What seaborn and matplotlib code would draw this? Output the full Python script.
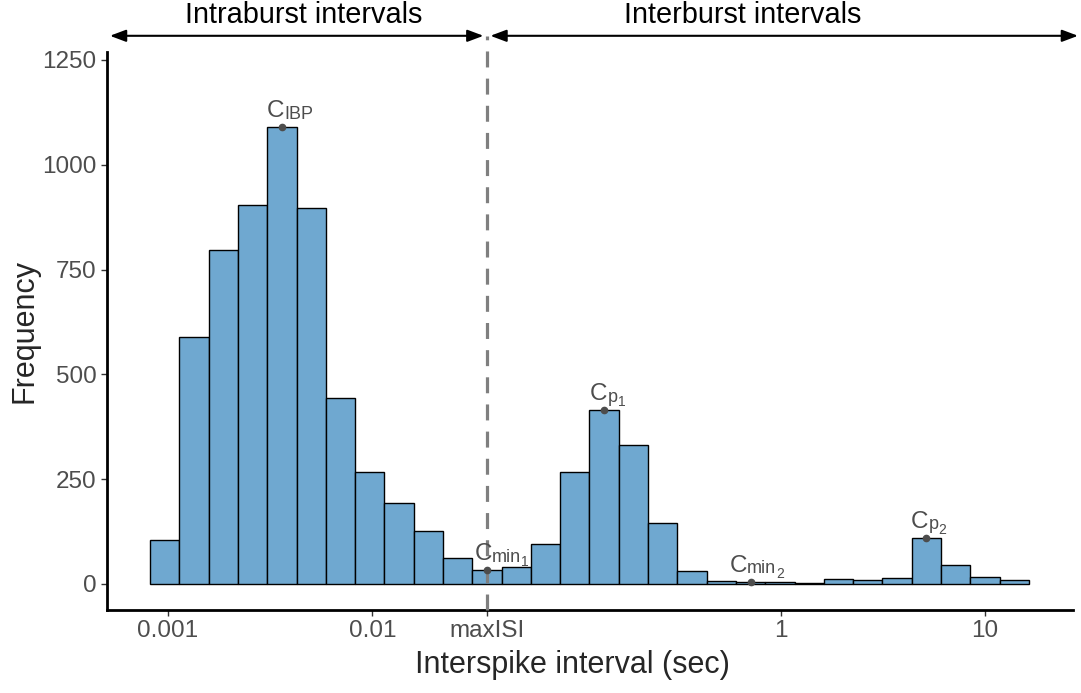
import numpy as np
import pandas as pd
import matplotlib
matplotlib.use("Agg")
import matplotlib.pyplot as plt
import seaborn as sns

# histogram bin counts (30 log-spaced bins)
counts = [105, 590, 797, 905, 1090, 897, 443, 268, 193, 125,
          62, 33, 40, 94, 266, 415, 331, 146, 31, 8,
          5, 5, 3, 11, 9, 14, 110, 46, 16, 9]
log_start = -3.088   # log10 of first bin edge
log_width = 0.1434   # bin width in decades
max_isi = 0.0364

# annotated peaks / minima: bin index, label pieces (text, level), x offset in points
peak_bins = [4, 11, 15, 20, 26]
peak_labels = [[("C", 0), ("IBP", 1)],
               [("C", 0), ("min", 1), ("1", 2)],
               [("C", 0), ("p", 1), ("1", 2)],
               [("C", 0), ("min", 1), ("2", 2)],
               [("C", 0), ("p", 1), ("2", 2)]]
peak_dx = [-11, -9, -10, -15, -11]

xticks = [0.001, 0.01, max_isi, 1, 10]
xtick_labels = ["0.001", "0.01", "maxISI", "1", "10"]
yticks = [0, 250, 500, 750, 1000, 1250]

sns.set_theme(style="ticks")
plt.rcParams["font.family"] = ["Liberation Sans", "DejaVu Sans"]

n_bins = len(counts)
log_end = log_start + log_width * n_bins
log_edges = log_start + log_width * np.arange(n_bins + 1)
centers = 10 ** ((log_edges[:-1] + log_edges[1:]) / 2)
df = pd.DataFrame({"isi": centers, "count": counts})

fig = plt.figure(figsize=(10.81, 6.93), dpi=100)
ax = fig.add_axes([0.099, 0.12, 0.8936, 0.805])

sns.histplot(data=df, x="isi", weights="count", bins=n_bins, binrange=(log_start, log_end),
             log_scale=True, color="#6FA8D0", edgecolor="black", linewidth=1.0,
             alpha=1.0, ax=ax)

ax.set_xlim(10 ** -3.2986, 10 ** 1.430)
ax.set_ylim(-62, 1269)

# dashed maxISI line, running up past the panel
ax.axvline(max_isi, ymin=0, ymax=1.029, color="#7F7F7F", lw=2.3,
           dashes=(5, 3.5), clip_on=False, zorder=4)

# peak markers and labels (subscripts built piece by piece)
renderer = fig.canvas.get_renderer()
sizes = {0: 17.5, 1: 13, 2: 10}
drops = {0: 0, 1: -1, 2: -4}
for b, parts, dx in zip(peak_bins, peak_labels, peak_dx):
    ax.plot(centers[b], counts[b], "o", color="#4D4D4D", ms=4.5, zorder=5)
    x_off = dx
    for txt, lvl in parts:
        t = ax.annotate(txt, (centers[b], counts[b]), xytext=(x_off, 7 + drops[lvl]),
                        textcoords="offset points", ha="left", va="baseline",
                        fontsize=sizes[lvl], color="#4D4D4D", zorder=6)
        x_off += t.get_window_extent(renderer).width * 72 / fig.dpi

# region arrows above the panel
arrow_kw = dict(arrowstyle="<|-|>,head_length=0.8,head_width=0.3", color="black", lw=1.5)
ax.annotate("", xy=(max_isi, 1.029), xycoords=("data", "axes fraction"),
            xytext=(0.003, 1.029), textcoords="axes fraction",
            arrowprops=dict(shrinkA=0, shrinkB=2.5, **arrow_kw), annotation_clip=False)
ax.annotate("", xy=(max_isi, 1.029), xycoords=("data", "axes fraction"),
            xytext=(1.0052, 1.029), textcoords="axes fraction",
            arrowprops=dict(shrinkA=0, shrinkB=2.5, **arrow_kw), annotation_clip=False)
ax.text(0.204, 1.066, "Intraburst intervals", transform=ax.transAxes,
        ha="center", va="center", fontsize=20.8, color="black")
ax.text(0.658, 1.066, "Interburst intervals", transform=ax.transAxes,
        ha="center", va="center", fontsize=20.8, color="black")

ax.xaxis.set_minor_locator(matplotlib.ticker.NullLocator())
ax.set_xticks(xticks)
ax.set_xticklabels(xtick_labels)
ax.set_yticks(yticks)
ax.tick_params(axis="both", labelsize=17.5, labelcolor="#4D4D4D", color="#333333",
               length=4, width=1)
ax.get_xticklines()[4].set_color("#7F7F7F")

ax.set_xlabel("Interspike interval (sec)", fontsize=22)
ax.set_ylabel("Frequency", fontsize=22)
ax.xaxis.set_label_coords(0.482, -0.072)
ax.yaxis.set_label_coords(-0.07, 0.5)

for side in ["top", "right"]:
    ax.spines[side].set_visible(False)
for side in ["left", "bottom"]:
    ax.spines[side].set_linewidth(2)
    ax.spines[side].set_color("black")

fig.savefig("out.png", dpi=100)
